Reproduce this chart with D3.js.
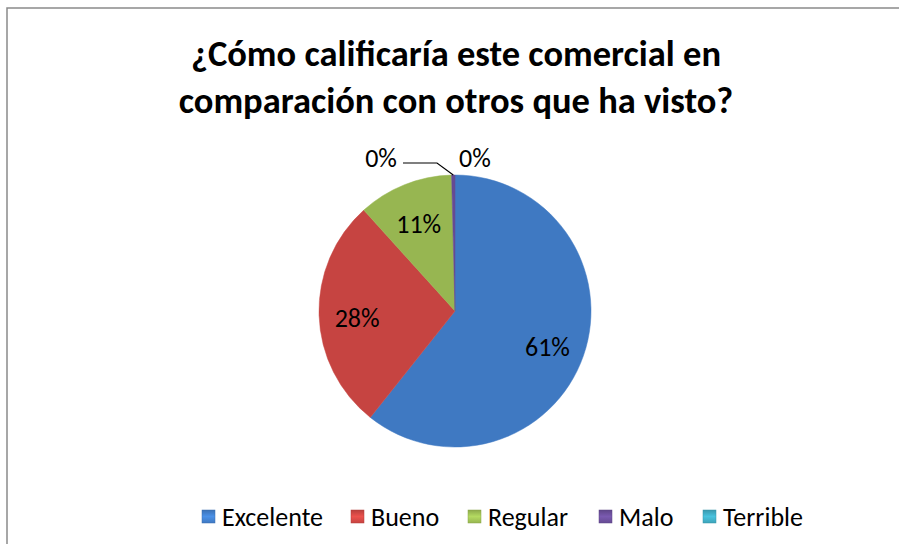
<!DOCTYPE html>
<html>
<head>
<meta charset="utf-8">
<script src="https://cdn.jsdelivr.net/npm/d3@7"></script>
<style>
  body { margin: 0; background: #fff; }
  svg { display: block; }
</style>
</head>
<body>
<div id="chart"></div>
<script>
// ========= Data ========= //
const categories = ['Excelente', 'Bueno', 'Regular', 'Malo', 'Terrible'];
const values = [60.7, 27.6, 11.3, 0.4, 0];
const titleLines = ['¿Cómo calificaría este comercial en', 'comparación con otros que ha visto?'];

// ========= Constants ========= //
const width = 899;
const height = 544;
const cx = 455;
const cy = 311;
const radius = 136;
const font = "Calibri, Carlito, 'Open Sans', sans-serif";

const colors = d3.scaleOrdinal()
  .domain(categories)
  .range(['#4687d8', '#dc4c48', '#a8cb5a', '#7254a4', '#44b6cf']);

const svg = d3.select('#chart').append('svg')
  .attr('width', width)
  .attr('height', height);

const defs = svg.append('defs');

// ========= Frame (top + left lines) ========= //
svg.append('path')
  .attr('d', `M7,${height} L7,8 L${width},8`)
  .attr('fill', 'none')
  .attr('stroke', '#8a8a8a')
  .attr('stroke-width', 1.5);

// ========= Title ========= //
svg.append('g')
  .selectAll('text')
  .data(titleLines)
  .join('text')
  .attr('x', 456)
  .attr('y', (d, i) => 66 + i * 47)
  .attr('text-anchor', 'middle')
  .attr('font-family', font)
  .attr('font-weight', 'bold')
  .attr('font-size', 36.5)
  .attr('fill', '#000')
  .text((d) => d);

// ========= Gradients (bevel look) ========= //
categories.forEach((c, i) => {
  const base = d3.color(colors(c));
  const g = defs.append('radialGradient')
    .attr('id', `grad-${i}`)
    .attr('gradientUnits', 'userSpaceOnUse')
    .attr('cx', cx).attr('cy', cy).attr('r', radius);
  g.append('stop').attr('offset', '0%').attr('stop-color', base.darker(0.1));
  g.append('stop').attr('offset', '88%').attr('stop-color', base);
  g.append('stop').attr('offset', '95%').attr('stop-color', base.brighter(0.15));
  g.append('stop').attr('offset', '100%').attr('stop-color', base.darker(0.3));
});

// ========= Pie ========= //
const data = categories.map((c, i) => ({ name: c, value: values[i] }));
const total = d3.sum(values);

const pie = d3.pie()
  .value((d) => d.value)
  .sort(null);

const arc = d3.arc()
  .innerRadius(0)
  .outerRadius(radius);

const arcs = pie(data);

const pieG = svg.append('g')
  .attr('transform', `translate(${cx},${cy})`);

pieG.selectAll('path')
  .data(arcs.filter((d) => d.value > 0))
  .join('path')
  .attr('d', arc)
  .attr('fill', (d) => `url(#grad-${categories.indexOf(d.data.name)})`)
  .attr('stroke', (d) => d3.color(colors(d.data.name)).darker(0.3))
  .attr('stroke-width', 0.5);

// ========= Labels ========= //
const pct = (v) => `${Math.round(v / total * 100)}%`;
const labelArc = d3.arc().innerRadius(radius * 0.72).outerRadius(radius * 0.72);

pieG.selectAll('text.inside')
  .data(arcs.filter((d) => d.value / total > 0.05))
  .join('text')
  .attr('class', 'inside')
  .attr('transform', (d) => {
    const [x, y] = labelArc.centroid(d);
    return `translate(${x},${y})`;
  })
  .attr('text-anchor', 'middle')
  .attr('dy', '0.5em')
  .attr('font-family', font)
  .attr('font-size', 26)
  .attr('fill', '#000')
  .text((d) => pct(d.value));

// small slices sit outside above the top of the pie
const outside = arcs.filter((d) => d.value / total <= 0.05);
const outsideX = [-74, 20];
pieG.selectAll('text.outside')
  .data(outside)
  .join('text')
  .attr('class', 'outside')
  .attr('x', (d, i) => outsideX[i])
  .attr('y', -144)
  .attr('text-anchor', 'middle')
  .attr('font-family', font)
  .attr('font-size', 26)
  .attr('fill', '#000')
  .text((d) => pct(d.value));

// leader line for the first small slice
const first = outside[0];
const mid = (first.startAngle + first.endAngle) / 2;
const edge = [Math.sin(mid) * radius, -Math.cos(mid) * radius];
pieG.append('path')
  .attr('d', `M${outsideX[0] + 22},${-148} L${-18},${-148} L${edge[0]},${edge[1]}`)
  .attr('fill', 'none')
  .attr('stroke', '#000')
  .attr('stroke-width', 1.2);

// ========= Legend ========= //
categories.forEach((c, i) => {
  const base = d3.color(colors(c));
  const g = defs.append('linearGradient')
    .attr('id', `lg-${i}`)
    .attr('x1', 0).attr('y1', 0).attr('x2', 0).attr('y2', 1);
  g.append('stop').attr('offset', '0%').attr('stop-color', base.darker(0.5));
  g.append('stop').attr('offset', '50%').attr('stop-color', base.brighter(0.2));
  g.append('stop').attr('offset', '100%').attr('stop-color', base.darker(0.3));
});

const legendX = [202, 351, 468, 599, 703];
const legend = svg.append('g')
  .selectAll('g')
  .data(categories)
  .join('g')
  .attr('transform', (d, i) => `translate(${legendX[i]},${510})`);

legend.append('rect')
  .attr('width', 13)
  .attr('height', 13)
  .attr('fill', (d, i) => `url(#lg-${i})`)
  .attr('stroke', (d) => d3.color(colors(d)).darker(0.6))
  .attr('stroke-width', 0.5);

legend.append('text')
  .attr('x', 20)
  .attr('y', 7)
  .attr('dy', '0.35em')
  .attr('font-family', font)
  .attr('font-size', 26)
  .attr('fill', '#000')
  .text((d) => d);
</script>
</body>
</html>
